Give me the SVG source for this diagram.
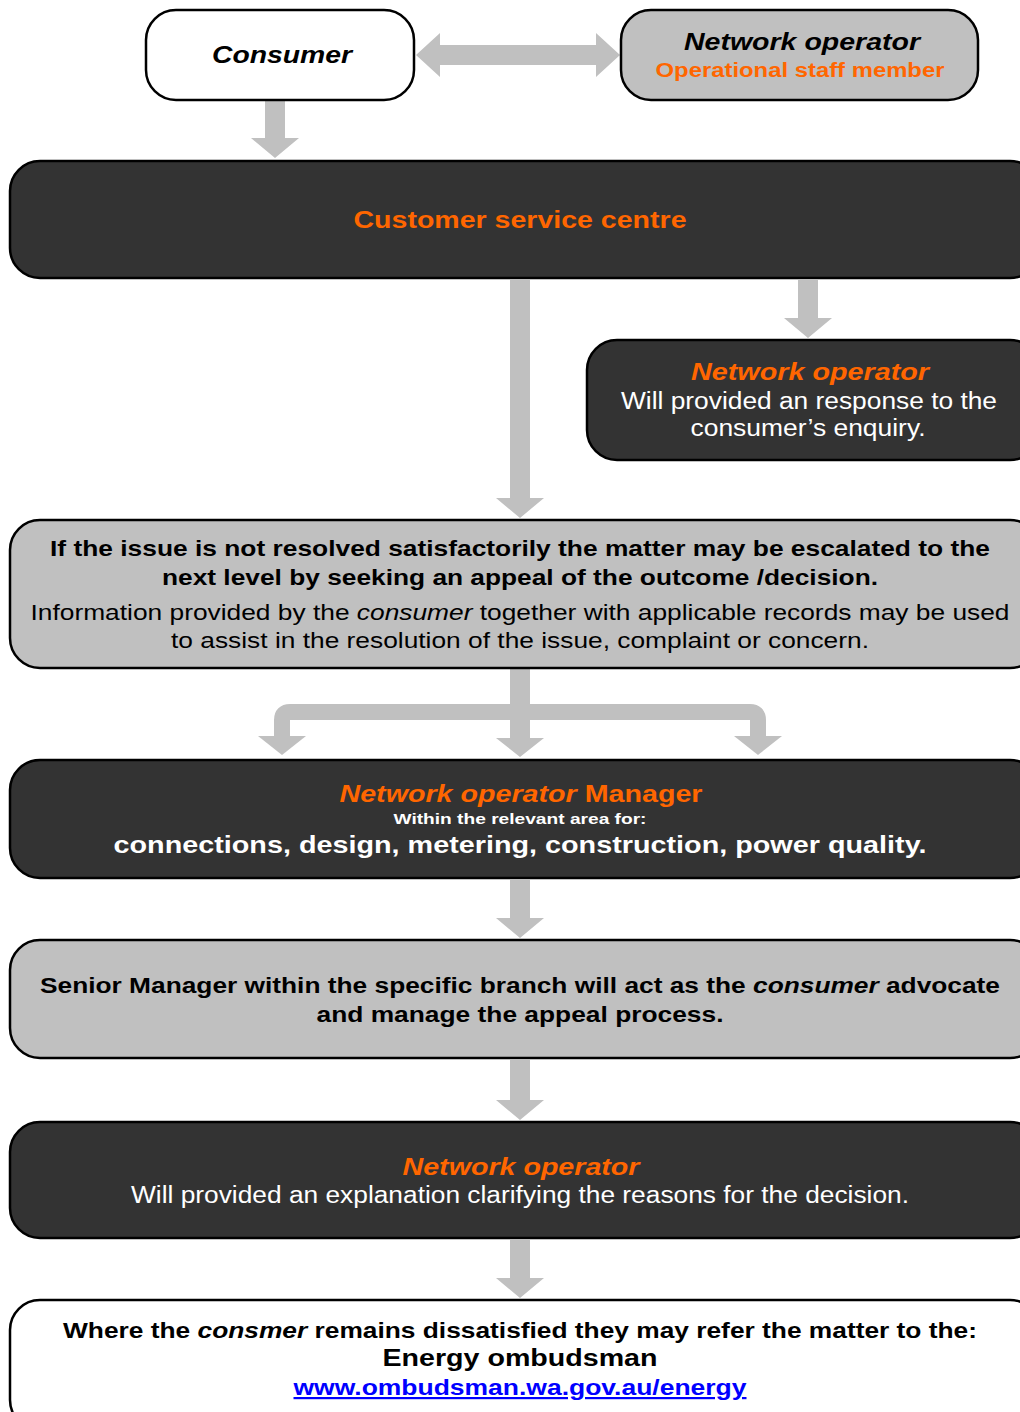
<svg xmlns="http://www.w3.org/2000/svg" width="1020" height="1412" viewBox="0 0 1020 1412">
<style>
.box{stroke:#000;stroke-width:2.5}
.dark{fill:#333333}
.gray{fill:#c0c0c0}
.white{fill:#ffffff}
.arr{fill:#c0c0c0}
text{font-family:"Liberation Sans",Arial,sans-serif;text-anchor:middle}
.b{font-weight:bold}
.i{font-style:italic}
.or{fill:#ff6600}
.wt{fill:#ffffff}
.bk{fill:#000000}
</style>
<rect width="1020" height="1412" fill="#ffffff"/>
<g id="connectors">
<polygon class="arr" points="416,55 440,33 440,45 596,45 596,33 620,55 596,77 596,65 440,65 440,77"/>
<polygon class="arr" points="265,101 285,101 285,138 299,138 275,158 251,138 265,138"/>
<polygon class="arr" points="798,280 818,280 818,318 832,318 808,338 784,318 798,318"/>
<polygon class="arr" points="510,280 530,280 530,498 544,498 520,518 496,498 510,498"/>
<polygon class="arr" points="510,669 530,669 530,738 544,738 520,757 496,738 510,738"/>
<path d="M282,740 V720 Q282,712 290,712 H750 Q758,712 758,720 V740" fill="none" stroke="#c0c0c0" stroke-width="16"/>
<polygon class="arr" points="258,736 306,736 282,755"/>
<polygon class="arr" points="734,736 782,736 758,755"/>
<polygon class="arr" points="510,880 530,880 530,918 544,918 520,938 496,918 510,918"/>
<polygon class="arr" points="510,1060 530,1060 530,1100 544,1100 520,1120 496,1100 510,1100"/>
<polygon class="arr" points="510,1240 530,1240 530,1278 544,1278 520,1298 496,1278 510,1278"/>
</g>
<g id="consumer">
<rect class="box white" x="146" y="10" width="268" height="90" rx="30"/>
<text class="b i bk" x="282" y="63" font-size="24" textLength="140" lengthAdjust="spacingAndGlyphs">Consumer</text>
</g>
<g id="operational-staff">
<rect class="box gray" x="621" y="10" width="357" height="90" rx="30"/>
<text class="b i bk" x="802" y="50" font-size="24" textLength="236" lengthAdjust="spacingAndGlyphs">Network operator</text>
<text class="b or" x="800" y="77" font-size="20" textLength="289" lengthAdjust="spacingAndGlyphs">Operational staff member</text>
</g>
<g id="customer-service">
<rect class="box dark" x="10" y="161" width="1030" height="117" rx="30"/>
<text class="b or" x="520" y="228" font-size="24" textLength="333" lengthAdjust="spacingAndGlyphs">Customer service centre</text>
</g>
<g id="operator-response">
<rect class="box dark" x="587" y="340" width="453" height="120" rx="30"/>
<text class="b i or" x="810" y="380" font-size="24" textLength="238" lengthAdjust="spacingAndGlyphs">Network operator</text>
<text class="wt" x="809" y="409" font-size="23" textLength="376" lengthAdjust="spacingAndGlyphs">Will provided an response to the</text>
<text class="wt" x="808" y="436" font-size="23" textLength="235" lengthAdjust="spacingAndGlyphs">consumer’s enquiry.</text>
</g>
<g id="escalation">
<rect class="box gray" x="10" y="520" width="1030" height="148" rx="30"/>
<text class="b bk" x="520" y="556" font-size="22" textLength="940" lengthAdjust="spacingAndGlyphs">If the issue is not resolved satisfactorily the matter may be escalated to the</text>
<text class="b bk" x="520" y="585" font-size="22" textLength="716" lengthAdjust="spacingAndGlyphs">next level by seeking an appeal of the outcome /decision.</text>
<text class="bk" x="520" y="620" font-size="22" textLength="979" lengthAdjust="spacingAndGlyphs">Information provided by the <tspan class="i">consumer</tspan> together with applicable records may be used</text>
<text class="bk" x="520" y="648" font-size="22" textLength="698" lengthAdjust="spacingAndGlyphs">to assist in the resolution of the issue, complaint or concern.</text>
</g>
<g id="manager">
<rect class="box dark" x="10" y="760" width="1030" height="118" rx="30"/>
<text class="b or" x="521" y="802" font-size="24" textLength="363" lengthAdjust="spacingAndGlyphs"><tspan class="i">Network operator</tspan> Manager</text>
<text class="b wt" x="520" y="824" font-size="15" textLength="253" lengthAdjust="spacingAndGlyphs">Within the relevant area for:</text>
<text class="b wt" x="520" y="853" font-size="24" textLength="813" lengthAdjust="spacingAndGlyphs">connections, design, metering, construction, power quality.</text>
</g>
<g id="senior-manager">
<rect class="box gray" x="10" y="940" width="1030" height="118" rx="30"/>
<text class="b bk" x="520" y="993" font-size="22" textLength="960" lengthAdjust="spacingAndGlyphs">Senior Manager within the specific branch will act as the <tspan class="i">consumer</tspan> advocate</text>
<text class="b bk" x="520" y="1022" font-size="22" textLength="407" lengthAdjust="spacingAndGlyphs">and manage the appeal process.</text>
</g>
<g id="operator-explanation">
<rect class="box dark" x="10" y="1122" width="1030" height="116" rx="30"/>
<text class="b i or" x="521" y="1175" font-size="24" textLength="237" lengthAdjust="spacingAndGlyphs">Network operator</text>
<text class="wt" x="520" y="1203" font-size="23" textLength="778" lengthAdjust="spacingAndGlyphs">Will provided an explanation clarifying the reasons for the decision.</text>
</g>
<g id="ombudsman">
<rect class="box white" x="10" y="1300" width="1030" height="130" rx="30"/>
<text class="b bk" x="520" y="1338" font-size="22" textLength="914" lengthAdjust="spacingAndGlyphs">Where the <tspan class="i">consmer</tspan> remains dissatisfied they may refer the matter to the:</text>
<text class="b bk" x="520" y="1366" font-size="23" textLength="275" lengthAdjust="spacingAndGlyphs">Energy ombudsman</text>
<text class="b" x="520" y="1395" font-size="22" fill="#0000ff" text-decoration="underline" textLength="453" lengthAdjust="spacingAndGlyphs">www.ombudsman.wa.gov.au/energy</text>
</g>
</svg>
